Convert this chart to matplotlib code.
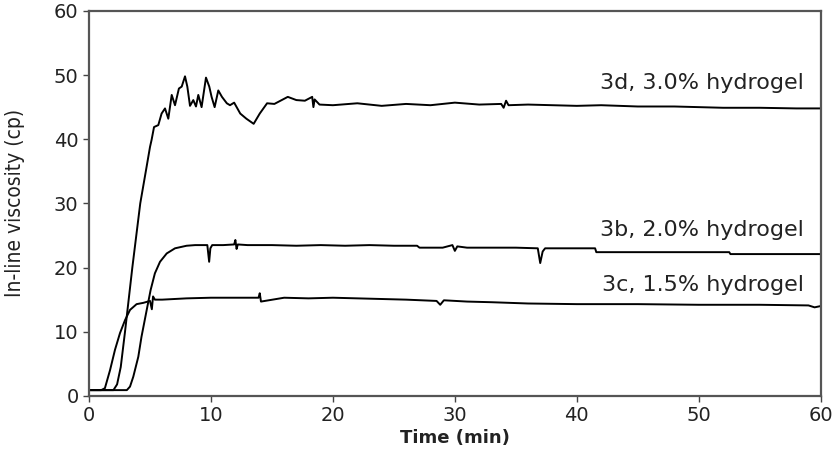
import matplotlib
matplotlib.use("Agg")
import matplotlib.pyplot as plt

# 3d, 3.0% hydrogel
t_3d = [0, 1.0, 2.0, 2.3, 2.6, 2.95, 3.55, 4.2, 4.72, 5.0,
        5.13, 5.33, 5.68, 5.95, 6.23, 6.5, 6.78, 7.05, 7.37, 7.6,
        7.87, 8.06, 8.28, 8.55, 8.77, 8.96, 9.23, 9.59, 9.86, 10.05,
        10.3, 10.6, 10.9, 11.3, 11.56, 11.9, 12.4, 12.9, 13.5, 14.0,
        14.6, 15.2, 15.8, 16.3, 17.0, 17.7, 18.3, 18.4, 18.5, 18.9,
        20, 22, 24, 26, 28, 30, 32, 33.8, 34.0, 34.2,
        34.4, 36, 38, 40, 42, 45, 48, 50, 52, 55, 58, 60]
v_3d = [0.9, 0.9, 0.9, 1.8, 4.5, 10, 20, 30, 35.7, 38.8,
        39.9, 41.9, 42.2, 44.0, 44.8, 43.2, 46.9, 45.3, 47.9, 48.2,
        49.8, 48.2, 45.2, 46.1, 45.1, 46.9, 45.0, 49.6, 48.2, 46.6,
        45.0, 47.6, 46.6, 45.6, 45.3, 45.7, 44.0, 43.2, 42.4, 44.0,
        45.6, 45.5, 46.1, 46.6, 46.1, 46.0, 46.6, 45.0, 46.2, 45.4,
        45.3, 45.6, 45.2, 45.5, 45.3, 45.7, 45.4, 45.5, 44.9, 46.0,
        45.3, 45.4, 45.3, 45.2, 45.3, 45.1, 45.1, 45.0, 44.9, 44.9, 44.8, 44.8]

# 3b, 2.0% hydrogel
t_3b = [0, 1, 2, 3.1, 3.36, 3.63, 4.04, 4.3, 4.73, 5.05,
        5.4, 5.82, 6.37, 7.05, 8.0, 8.7, 9.7, 9.85, 9.95, 10.1,
        11, 11.9, 12.0, 12.1, 12.2, 13, 15, 17, 19, 21,
        23, 25, 26.9, 27.1, 29, 29.8, 30.0, 30.2, 31, 33,
        35, 36.8, 37.0, 37.2, 37.4, 39, 41.5, 41.6, 44, 47,
        50, 52.5, 52.6, 55, 58, 60]
v_3b = [0.9, 0.9, 0.9, 0.9, 1.45, 3.0, 6.1, 9.2, 13.4, 16.5,
        19.1, 20.9, 22.2, 23.0, 23.4, 23.5, 23.5, 20.9, 23.0, 23.5,
        23.5, 23.6, 24.3, 22.9, 23.6, 23.5, 23.5, 23.4, 23.5, 23.4,
        23.5, 23.4, 23.4, 23.1, 23.1, 23.5, 22.6, 23.3, 23.1, 23.1,
        23.1, 23.0, 20.7, 22.5, 23.0, 23.0, 23.0, 22.4, 22.4, 22.4,
        22.4, 22.4, 22.1, 22.1, 22.1, 22.1]

# 3c, 1.5% hydrogel
t_3c = [0, 1.0, 1.3, 1.72, 2.13, 2.54, 2.95, 3.36, 3.9, 4.45,
        5.0, 5.15, 5.25, 5.4, 6, 7, 8, 10, 12, 13.9,
        14.0, 14.1, 16, 18, 20, 22, 24, 26, 28.5, 28.8,
        29.1, 31, 33, 36, 40, 45, 50, 55, 59, 59.5, 60]
v_3c = [0.9, 0.9, 1.2, 4.0, 7.2, 9.8, 11.8, 13.4, 14.3, 14.5,
        14.8, 13.5, 15.5, 15.0, 15.0, 15.1, 15.2, 15.3, 15.3, 15.3,
        16.0, 14.7, 15.3, 15.2, 15.3, 15.2, 15.1, 15.0, 14.8, 14.2,
        14.9, 14.7, 14.6, 14.4, 14.3, 14.3, 14.2, 14.2, 14.1, 13.8, 14.0]

labels = ["3d, 3.0% hydrogel", "3b, 2.0% hydrogel", "3c, 1.5% hydrogel"]
label_y = [48.8, 25.9, 17.3]

fig = plt.figure(figsize=(8.4, 4.73), dpi=100)
ax = fig.add_axes([0.106, 0.163, 0.871, 0.814])

for t, v in [(t_3d, v_3d), (t_3b, v_3b), (t_3c, v_3c)]:
    ax.plot(t, v, color="black", lw=1.4)

for txt, y in zip(labels, label_y):
    ax.text(58.6, y, txt, ha="right", va="center", fontsize=16, color="#222222")

ax.set_xlim(0, 60)
ax.set_ylim(0, 60)
ax.set_xticks(range(0, 61, 10))
ax.set_yticks(range(0, 61, 10))
ax.tick_params(direction="out", length=4, width=1, labelsize=14, colors="#444444",
               labelcolor="#222222")
for s in ax.spines.values():
    s.set_color("#555555")
    s.set_linewidth(1.6)

ax.set_xlabel("Time (min)", fontsize=13, fontweight="bold", color="#222222")
ax.xaxis.set_label_coords(0.5, -0.085)
ax.set_ylabel("In-line viscosity (cp)", fontsize=15, color="#222222",
              fontstretch="condensed")
ax.yaxis.set_label_coords(-0.088, 0.5)

fig.savefig("out.png", dpi=100)
